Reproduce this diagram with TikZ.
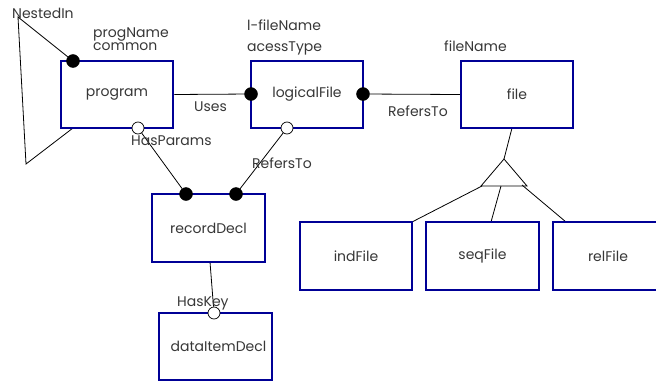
\documentclass[tikz,border=0pt]{standalone}
\usepackage{fontspec}
\setmainfont{Poppins}
\usetikzlibrary{backgrounds}
\definecolor{boxblue}{RGB}{0,0,150}
\definecolor{txtgrey}{RGB}{55,55,55}
\tikzset{
  entity/.style={draw=boxblue, line width=2.5pt, fill=white, inner sep=0pt,
    minimum width=112pt, minimum height=67pt, text=txtgrey,
    font=\fontsize{14}{16}\selectfont},
  lbl/.style={text=txtgrey, inner sep=0pt, anchor=base west,
    font=\fontsize{14}{16}\selectfont},
  full/.style={circle, draw=black, fill=black, minimum size=13pt, inner sep=0pt},
  hollow/.style={circle, draw=black, line width=0.7pt, fill=white, minimum size=12pt, inner sep=0pt},
  conn/.style={draw=black, line width=0.8pt}
}
\begin{document}
\begin{tikzpicture}[x=1pt, y=-1pt]
\useasboundingbox (0,0) rectangle (656,383);
\clip (0,0) rectangle (656,383);

% entities
\node[entity] (program)  at (117,94.5)  {program};
\node[entity] (logical)  at (307,94.5)  {logicalFile};
\node[entity] (file)     at (517,94.5)  {file};
\node[entity, minimum width=113pt, minimum height=68pt] (record) at (208.5,228) {recordDecl};
\node[entity, minimum width=113pt, minimum height=67pt] (item) at (215.5,346.5) {\hspace*{6pt}dataItemDecl};
\node[entity, minimum width=112pt, minimum height=68pt] (ind) at (356,256) {indFile};
\node[entity, minimum width=113pt, minimum height=68pt] (seq) at (482.5,256) {seqFile};
\node[entity, minimum width=113pt, minimum height=68pt] (rel) at (609.5,256) {\hspace*{-3pt}relFile};

% role ends
\node[full]   (pNest)  at (73,61)   {};
\node[hollow] (pPar)   at (138,128) {};
\node[full]   (lUse)   at (251,94)  {};
\node[full]   (lRef)   at (363,94)  {};
\node[hollow] (lRec)   at (287,128) {};
\node[full]   (rPar)   at (186,194) {};
\node[full]   (rRef)   at (236,194) {};
\node[hollow] (dKey)   at (214,313) {};

% corner points of the NestedIn loop
\coordinate (nTop) at (18,17);
\coordinate (nBot) at (26,164);
\coordinate (pLow) at (73,128);
\coordinate (rLow) at (210,262);
\coordinate (fLow) at (512,128);

% generalisation triangle
\coordinate (tApex) at (504,159);
\coordinate (tLeft) at (481,186);
\coordinate (tRight) at (527,186);
\coordinate (tA) at (482,186);
\coordinate (tB) at (501,186);
\coordinate (tC) at (522,185);
\coordinate (indTop) at (412,222);
\coordinate (seqTop) at (491,222);
\coordinate (relTop) at (566,222);

\begin{pgfonlayer}{background}
\draw[conn] (pNest) -- (nTop) -- (nBot) -- (pLow);
\draw[conn] (program.east) -- (lUse);
\draw[conn] (lRef) -- (file.west);
\draw[conn] (pPar) -- (rPar);
\draw[conn] (lRec) -- (rRef);
\draw[conn] (rLow) -- (dKey);
\draw[conn] (fLow) -- (tApex);
\draw[conn] (tA) -- (indTop);
\draw[conn] (tB) -- (seqTop);
\draw[conn] (tC) -- (relTop);
\end{pgfonlayer}
\draw[conn] (tApex) -- (tLeft) -- (tRight) -- cycle;

% labels
\node[lbl] (tNested) at (12,18.5)  {NestedIn};
\node[lbl] (tProg1)  at (93,37.5)  {progName};
\node[lbl] (tProg2)  at (93,50)    {common};
\node[lbl] (tLf1)    at (247,30.5) {l-fileName};
\node[lbl] (tLf2)    at (247,51)   {acessType};
\node[lbl] (tFile)   at (444,51)   {fileName};
\node[lbl] (tUses)   at (194,111.5){Uses};
\node[lbl] (tRef1)   at (388,116.5){RefersTo};
\node[lbl] (tPar)    at (131,145.5){HasParams};
\node[lbl] (tRef2)   at (252,168.5){RefersTo};
\node[lbl] (tKey)    at (177,306.5){HasKey};
\end{tikzpicture}
\end{document}
